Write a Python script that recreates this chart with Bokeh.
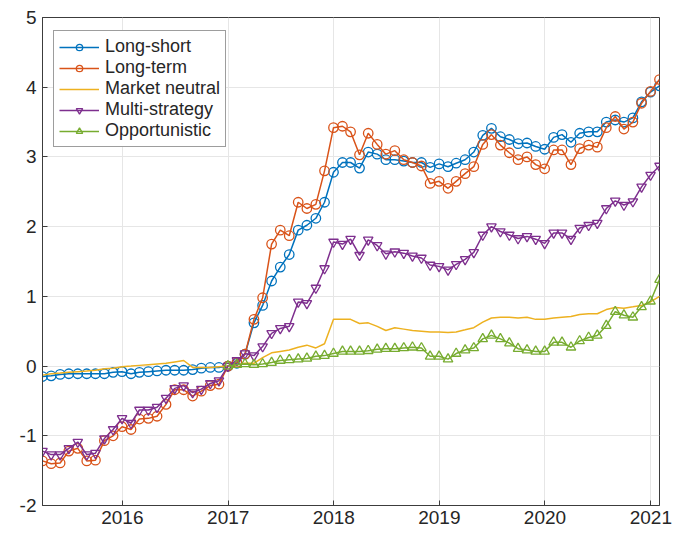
import numpy as np
import pandas as pd
from bokeh.plotting import figure
from bokeh.models import Range1d, FixedTicker, DatetimeTickFormatter, Legend, LegendItem
from bokeh.embed import file_html
from bokeh.resources import INLINE

nan = float("nan")

# monthly observations, Mar 2015 .. Jan 2021 (month ends)
months = pd.date_range("2015-03-01", periods=71, freq="MS") + pd.offsets.MonthEnd(0)

long_short = [
    -0.15, -0.14, -0.12, -0.11, -0.11, -0.11, -0.11, -0.11, -0.09, -0.08,
    -0.11, -0.09, -0.08, -0.07, -0.06, -0.06, -0.06, -0.05, -0.03, -0.02,
    -0.02, 0.00, 0.04, 0.17, 0.62, 0.87, 1.22, 1.42, 1.60, 1.95,
    2.02, 2.12, 2.35, 2.78, 2.92, 2.92, 2.84, 3.07, 3.04, 2.96,
    2.96, 2.94, 2.92, 2.92, 2.85, 2.90, 2.86, 2.91, 2.96, 3.07,
    3.31, 3.41, 3.29, 3.25, 3.19, 3.20, 3.15, 3.11, 3.28, 3.32,
    3.21, 3.34, 3.36, 3.36, 3.50, 3.53, 3.50, 3.56, 3.79, 3.93,
    4.02]

long_term = [
    -1.36, -1.40, -1.39, -1.22, -1.18, -1.36, -1.35, -1.07, -1.00, -0.87,
    -0.91, -0.76, -0.75, -0.72, -0.55, -0.34, -0.34, -0.43, -0.36, -0.28,
    -0.26, 0.00, 0.05, 0.17, 0.67, 0.98, 1.75, 1.95, 1.87, 2.35,
    2.26, 2.32, 2.80, 3.42, 3.44, 3.36, 3.03, 3.34, 3.18, 3.04,
    3.09, 2.96, 2.92, 2.87, 2.62, 2.65, 2.55, 2.65, 2.76, 2.86,
    3.18, 3.32, 3.17, 3.06, 2.96, 3.00, 2.89, 2.83, 3.10, 3.10,
    2.89, 3.12, 3.17, 3.14, 3.42, 3.58, 3.40, 3.50, 3.77, 3.94,
    4.11]

market_neutral = [
    -0.13, -0.11, -0.10, -0.09, -0.08, -0.07, -0.06, -0.04, -0.03, -0.01,
    0.00, 0.01, 0.02, 0.03, 0.04, 0.06, 0.08, -0.02, -0.02, -0.02,
    -0.01, 0.00, 0.02, 0.04, 0.04, 0.12, 0.19, 0.21, 0.23, 0.27,
    0.30, 0.26, 0.32, 0.67, 0.67, 0.67, 0.61, 0.62, 0.57, 0.51,
    0.55, 0.53, 0.51, 0.50, 0.49, 0.49, 0.48, 0.49, 0.52, 0.55,
    0.63, 0.69, 0.70, 0.70, 0.69, 0.70, 0.67, 0.67, 0.69, 0.70,
    0.71, 0.74, 0.75, 0.75, 0.81, 0.84, 0.83, 0.85, 0.87, 0.92,
    1.00]

multi_strategy = [
    -1.22, -1.27, -1.27, -1.18, -1.09, -1.27, -1.25, -1.04, -0.91, -0.75,
    -0.82, -0.63, -0.63, -0.59, -0.46, -0.32, -0.28, -0.38, -0.33, -0.25,
    -0.21, 0.00, 0.08, 0.18, 0.15, 0.28, 0.47, 0.54, 0.57, 0.92,
    0.90, 1.12, 1.40, 1.78, 1.75, 1.82, 1.59, 1.81, 1.73, 1.61,
    1.64, 1.62, 1.58, 1.55, 1.45, 1.43, 1.38, 1.46, 1.53, 1.63,
    1.88, 2.00, 1.93, 1.88, 1.83, 1.86, 1.82, 1.76, 1.91, 1.91,
    1.82, 1.98, 2.02, 2.05, 2.26, 2.37, 2.31, 2.36, 2.57, 2.74,
    2.87]

opportunistic = [
    nan, nan, nan, nan, nan, nan, nan, nan, nan, nan,
    nan, nan, nan, nan, nan, nan, nan, nan, nan, nan,
    nan, 0.00, 0.02, 0.03, 0.02, 0.03, 0.05, 0.08, 0.09, 0.10,
    0.11, 0.14, 0.15, 0.18, 0.21, 0.21, 0.21, 0.22, 0.24, 0.25,
    0.25, 0.26, 0.27, 0.26, 0.14, 0.14, 0.10, 0.18, 0.23, 0.26,
    0.39, 0.44, 0.39, 0.33, 0.25, 0.23, 0.21, 0.21, 0.34, 0.34,
    0.27, 0.36, 0.41, 0.44, 0.58, 0.78, 0.73, 0.70, 0.85, 0.93,
    1.24]

series_names = ["Long-short", "Long-term", "Market neutral", "Multi-strategy", "Opportunistic"]
series_values = [long_short, long_term, market_neutral, multi_strategy, opportunistic]
series_colors = ["#0072BD", "#D95319", "#EDB120", "#7E2F8E", "#77AC30"]
series_markers = ["circle", "circle", None, "inverted_triangle", "triangle"]

year_ticks = [2016, 2017, 2018, 2019, 2020, 2021]
y_ticks = [-2, -1, 0, 1, 2, 3, 4, 5]

FONT = "Liberation Sans"
TXT = "#262626"
AXC = "#3c3c3c"

p = figure(width=683, height=534, x_axis_type="datetime",
           output_backend="svg", toolbar_location=None,
           min_border_left=42, min_border_right=24,
           min_border_top=17, min_border_bottom=29)
p.x_range = Range1d(months[0], months[-1])
p.y_range = Range1d(-2, 5)

items = []
x = np.array(months.to_pydatetime())
for name, vals, col, mk in zip(series_names, series_values, series_colors, series_markers):
    y = np.array(vals, dtype=float)
    r = [p.line(x, y, line_color=col, line_width=1.5)]
    if mk is not None:
        r.append(p.scatter(x, y, marker=mk, size=9.5, line_color=col,
                           fill_color=None, line_width=1.3))
    items.append(LegendItem(label=name, renderers=r))

tick_ms = [pd.Timestamp(f"{yy}-01-01").value / 1e6 for yy in year_ticks]
p.xaxis.ticker = FixedTicker(ticks=tick_ms)
p.xaxis.formatter = DatetimeTickFormatter(years="%Y", months="%Y", days="%Y",
                                          hours="%Y", minutes="%Y", seconds="%Y",
                                          milliseconds="%Y")
p.yaxis.ticker = FixedTicker(ticks=y_ticks)
p.yaxis.major_label_overrides = {v: str(v) for v in y_ticks}

for ax in (p.xaxis, p.yaxis):
    ax.major_label_text_font = FONT
    ax.major_label_text_font_size = "19px"
    ax.major_label_text_color = TXT
    ax.axis_line_color = AXC
    ax.major_tick_line_color = AXC
    ax.major_tick_in = 5
    ax.major_tick_out = 0
    ax.minor_tick_line_color = None
p.xaxis.major_label_standoff = 5
p.yaxis.major_label_standoff = 6

p.xgrid.ticker = FixedTicker(ticks=tick_ms)
p.ygrid.ticker = FixedTicker(ticks=y_ticks)
for g in (p.xgrid, p.ygrid):
    g.grid_line_color = "#e6e6e6"
    g.grid_line_width = 1

p.outline_line_color = AXC
p.outline_line_width = 1
p.background_fill_color = "white"
p.border_fill_color = "white"

legend = Legend(items=items, location=(11, 358),
                label_text_font=FONT, label_text_font_size="18px",
                label_text_color=TXT, glyph_width=40, glyph_height=16,
                label_height=20, spacing=0, label_standoff=6,
                padding=5, margin=0,
                border_line_color=AXC, border_line_width=1,
                background_fill_color="white", background_fill_alpha=1)
p.add_layout(legend, "center")

open("out.html", "w").write(file_html(p, INLINE))
